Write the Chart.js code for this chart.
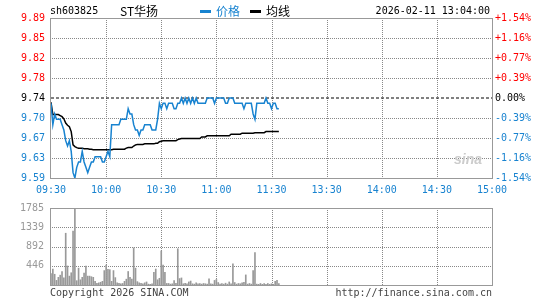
<!DOCTYPE html>
<html>
<head>
<meta charset="utf-8">
<script src="https://cdn.jsdelivr.net/npm/chart.js@4.4.1/dist/chart.umd.min.js"></script>
<style>
  body { margin: 0; background: #fff; }
  #wrap { position: relative; width: 545px; height: 300px; overflow: hidden; background: #fff;
          font-family: "DejaVu Sans Mono", monospace; font-size: 10px; color: #000; }
  .txt { position: absolute; white-space: nowrap; line-height: 12px; }
  .cjk { font-family: "Noto Sans CJK SC", sans-serif; font-size: 12px; }
  .dash { position: absolute; height: 3px; width: 11px; }
  #priceBox { position: absolute; left: 0; top: 0; }
  #volBox { position: absolute; left: 0; top: 195px; }
</style>
</head>
<body>
<div id="wrap">
  <div id="priceBox"><canvas id="priceChart" width="545" height="200"></canvas></div>
  <div id="volBox"><canvas id="volChart" width="545" height="105"></canvas></div>

  <div class="txt" style="left:50px;top:5px;">sh603825</div>
  <div class="txt cjk" style="left:120px;top:3px;line-height:16px;">ST华扬</div>
  <div class="dash" style="left:200px;top:10px;background:#1883d0;"></div>
  <div class="txt cjk" style="left:216px;top:3px;line-height:16px;color:#1883d0;">价格</div>
  <div class="dash" style="left:250px;top:10px;background:#000;"></div>
  <div class="txt cjk" style="left:266px;top:3px;line-height:16px;">均线</div>
  <div class="txt" style="right:55px;top:5px;">2026-02-11 13:04:00</div>

  <div class="txt" style="left:454px;top:151px;color:#ccc;font:italic bold 14px 'Liberation Sans', sans-serif;">sina</div>

  <div class="txt" style="left:50px;top:287px;color:#444;">Copyright 2026 SINA.COM</div>
  <div class="txt" style="right:53px;top:287px;color:#444;">http://finance.sina.com.cn</div>
</div>

<script>
// minute index 0 = 09:30, 120 = 11:30/13:00, 240 = 15:00
const timeTickPos = [0, 30, 60, 90, 120, 150, 180, 210, 240];
const timeLabels = ["09:30", "10:00", "10:30", "11:00", "11:30", "13:30", "14:00", "14:30", "15:00"];

const prevClose = 9.74;
const priceMin = 9.59;
const priceMax = 9.89;
// top to bottom
const priceTickLabels = ["9.89", "9.85", "9.82", "9.78", "9.74", "9.70", "9.67", "9.63", "9.59"];
const pctTickLabels = ["+1.54%", "+1.16%", "+0.77%", "+0.39%", "0.00%", "-0.39%", "-0.77%", "-1.16%", "-1.54%"];

const volMax = 1785;
// bottom to top
const volTickLabels = ["", "446", "892", "1339", "1785"];

const price = [
  9.73, 9.69, 9.71, 9.70, 9.70, 9.70, 9.69, 9.68, 9.66, 9.65,
  9.66, 9.64, 9.60, 9.59, 9.61, 9.62, 9.62, 9.64, 9.62, 9.61,
  9.60, 9.61, 9.62, 9.62, 9.63, 9.63, 9.63, 9.63, 9.62, 9.62,
  9.63, 9.64, 9.63, 9.69, 9.69, 9.69, 9.69, 9.69, 9.70, 9.70,
  9.70, 9.70, 9.72, 9.71, 9.71, 9.69, 9.68, 9.68, 9.67, 9.68,
  9.68, 9.69, 9.69, 9.69, 9.69, 9.68, 9.68, 9.68, 9.70, 9.73,
  9.72, 9.73, 9.73, 9.72, 9.73, 9.73, 9.73, 9.72, 9.72, 9.73,
  9.73, 9.74, 9.73, 9.74, 9.73, 9.74, 9.73, 9.74, 9.73, 9.74,
  9.73, 9.73, 9.73, 9.73, 9.73, 9.74, 9.74, 9.74, 9.74, 9.73,
  9.74, 9.74, 9.74, 9.74, 9.74, 9.73, 9.73, 9.74, 9.74, 9.74,
  9.73, 9.73, 9.73, 9.73, 9.73, 9.72, 9.73, 9.73, 9.73, 9.73,
  9.71, 9.70, 9.73, 9.73, 9.73, 9.73, 9.73, 9.74, 9.73, 9.73,
  9.72, 9.73, 9.73, 9.72, 9.72
];

const avgLine = [
  9.732, 9.709, 9.709, 9.709, 9.709, 9.707, 9.705, 9.701, 9.693, 9.689,
  9.686, 9.677, 9.652, 9.649, 9.647, 9.646, 9.646, 9.646, 9.645, 9.645,
  9.645, 9.644, 9.644, 9.643, 9.643, 9.643, 9.643, 9.643, 9.643, 9.643,
  9.643, 9.643, 9.643, 9.643, 9.644, 9.644, 9.644, 9.644, 9.644, 9.644,
  9.644, 9.646, 9.647, 9.647, 9.647, 9.650, 9.652, 9.653, 9.653, 9.653,
  9.653, 9.654, 9.654, 9.654, 9.654, 9.654, 9.654, 9.655, 9.655, 9.658,
  9.659, 9.660, 9.660, 9.660, 9.660, 9.660, 9.660, 9.660, 9.660, 9.662,
  9.663, 9.664, 9.664, 9.664, 9.664, 9.664, 9.664, 9.664, 9.664, 9.664,
  9.664, 9.664, 9.667, 9.667, 9.667, 9.669, 9.669, 9.669, 9.669, 9.669,
  9.669, 9.669, 9.669, 9.669, 9.669, 9.669, 9.669, 9.669, 9.672, 9.672,
  9.672, 9.672, 9.672, 9.672, 9.674, 9.674, 9.674, 9.674, 9.674, 9.674,
  9.674, 9.675, 9.675, 9.675, 9.675, 9.675, 9.675, 9.677, 9.677, 9.677,
  9.677, 9.677, 9.677, 9.677, 9.677
];

const volume = [
  263, 370, 249, 107, 178, 228, 313, 164, 1200, 441,
  206, 284, 1250, 1785, 100, 391, 121, 178, 277, 441,
  206, 206, 192, 178, 85, 36, 50, 64, 85, 334,
  462, 363, 355, 85, 334, 171, 50, 36, 28, 36,
  85, 135, 313, 178, 135, 860, 391, 78, 50, 36,
  28, 50, 71, 20, 15, 28, 291, 370, 121, 156,
  790, 462, 291, 36, 36, 20, 28, 100, 36, 840,
  149, 164, 28, 36, 28, 71, 92, 28, 20, 50,
  28, 35, 20, 35, 28, 20, 142, 28, 20, 106,
  128, 57, 20, 35, 20, 42, 20, 71, 28, 490,
  57, 20, 35, 28, 50, 64, 234, 20, 35, 20,
  333, 750, 20, 15, 35, 15, 35, 15, 35, 15,
  28, 15, 85, 106, 35
];

const BLUE = "#1883d0";
const FONT = "DejaVu Sans Mono";
const GRID = "#888";

// frame + dotted grid at the scale ticks
const framePlugin = {
  id: "frame",
  beforeDatasetsDraw(chart, args, opts) {
    const { ctx, chartArea: a, scales } = chart;
    const skipY = (opts && opts.skipY) || [];
    const top = Math.round(a.top), bottom = Math.round(a.bottom);
    const left = Math.round(a.left), right = Math.round(a.right);
    ctx.save();
    ctx.fillStyle = GRID;
    const xs = scales.x.ticks;
    xs.forEach((t, i) => {
      if (i === 0 || i === xs.length - 1) return;
      const px = Math.round(scales.x.getPixelForValue(t.value));
      for (let y = top + 2; y < bottom; y += 2) ctx.fillRect(px, y, 1, 1);
    });
    scales.y.ticks.forEach((t, i) => {
      if (skipY.includes(i)) return;
      const py = Math.round(scales.y.getPixelForValue(t.value));
      for (let x = left + 1; x < right; x += 2) ctx.fillRect(x, py, 1, 1);
    });
    ctx.strokeStyle = "#999";
    ctx.lineWidth = 1;
    ctx.strokeRect(left - 0.5, top + 0.5, right - left + 1, bottom - top);
    ctx.restore();
  },
};

function evenTicks(min, max, n) {
  const out = [];
  for (let i = 0; i < n; i++) out.push({ value: min + (max - min) * i / (n - 1) });
  return out;
}

function tickColor(i) {
  // i counts from the bottom tick
  if (i === 4) return "#000";
  return i > 4 ? "#ff0000" : BLUE;
}

new Chart(document.getElementById("priceChart"), {
  type: "line",
  data: {
    datasets: [
      {
        label: "价格",
        data: price.map((v, i) => ({ x: i, y: v })),
        borderColor: BLUE,
        borderWidth: 1.5,
        pointRadius: 0,
        tension: 0,
      },
      {
        label: "均线",
        data: avgLine.map((v, i) => ({ x: i, y: v })),
        borderColor: "#000",
        borderWidth: 1.5,
        pointRadius: 0,
        tension: 0,
      },
      {
        label: "prev",
        data: [{ x: 0, y: prevClose }, { x: 240, y: prevClose }],
        borderColor: "#000",
        borderWidth: 1,
        borderDash: [3, 2],
        pointRadius: 0,
      },
    ],
  },
  options: {
    responsive: false,
    animation: false,
    events: [],
    layout: { padding: { top: 18, left: 0, right: 0, bottom: 0 } },
    plugins: {
      legend: { display: false },
      tooltip: { enabled: false },
      frame: { skipY: [0, 4, 8] },
    },
    scales: {
      x: {
        type: "linear",
        min: 0,
        max: 240,
        afterBuildTicks: (s) => { s.ticks = timeTickPos.map((v) => ({ value: v })); },
        afterFit: (s) => { s.height = 22; },
        ticks: {
          color: BLUE,
          font: { family: FONT, size: 10 },
          padding: 6,
          maxRotation: 0,
          autoSkip: false,
          callback: (v, i) => timeLabels[i],
        },
        grid: { display: false, drawTicks: false },
        border: { display: false },
      },
      y: {
        position: "left",
        min: priceMin,
        max: priceMax,
        afterBuildTicks: (s) => { s.ticks = evenTicks(priceMin, priceMax, 9); },
        afterFit: (s) => { s.width = 51; },
        ticks: {
          color: (c) => tickColor(c.index),
          font: { family: FONT, size: 10 },
          padding: 6,
          autoSkip: false,
          callback: (v, i) => priceTickLabels[8 - i],
        },
        grid: { display: false, drawTicks: false },
        border: { display: false },
      },
      y1: {
        position: "right",
        min: priceMin,
        max: priceMax,
        afterBuildTicks: (s) => { s.ticks = evenTicks(priceMin, priceMax, 9); },
        afterFit: (s) => { s.width = 53; },
        ticks: {
          color: (c) => tickColor(c.index),
          font: { family: FONT, size: 10 },
          padding: 3,
          autoSkip: false,
          callback: (v, i) => pctTickLabels[8 - i],
        },
        grid: { display: false, drawTicks: false },
        border: { display: false },
      },
    },
  },
  plugins: [framePlugin],
});

new Chart(document.getElementById("volChart"), {
  type: "bar",
  data: {
    datasets: [
      {
        label: "成交量",
        data: volume.map((v, i) => ({ x: i, y: v })),
        backgroundColor: "#999",
        borderWidth: 0,
        barThickness: 1,
      },
    ],
  },
  options: {
    responsive: false,
    animation: false,
    events: [],
    layout: { padding: { top: 6, left: 0, right: 53, bottom: 0 } },
    plugins: {
      legend: { display: false },
      tooltip: { enabled: false },
      frame: { skipY: [0, 4] },
    },
    scales: {
      x: {
        type: "linear",
        min: 0,
        max: 240,
        offset: false,
        afterBuildTicks: (s) => { s.ticks = timeTickPos.map((v) => ({ value: v })); },
        afterFit: (s) => { s.height = 15; },
        ticks: { display: false },
        grid: { display: false, drawTicks: false },
        border: { display: false },
      },
      y: {
        min: 0,
        max: volMax,
        afterBuildTicks: (s) => { s.ticks = evenTicks(0, volMax, 5); },
        afterFit: (s) => { s.width = 51; },
        ticks: {
          color: "#999",
          font: { family: FONT, size: 10 },
          padding: 7,
          autoSkip: false,
          callback: (v, i) => volTickLabels[i],
        },
        grid: { display: false, drawTicks: false },
        border: { display: false },
      },
    },
  },
  plugins: [framePlugin],
});
</script>
</body>
</html>
